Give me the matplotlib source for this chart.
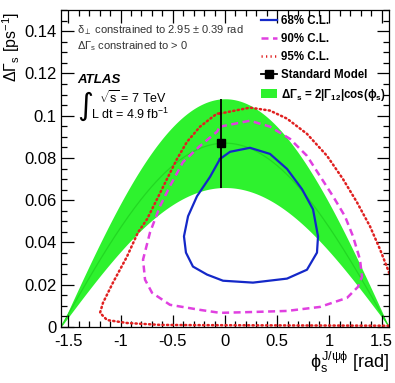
import numpy as np
import matplotlib
matplotlib.use("Agg")
import matplotlib.pyplot as plt
from matplotlib.lines import Line2D
from matplotlib.patches import Patch
from matplotlib.ticker import MultipleLocator, FuncFormatter

plt.rcParams['font.family'] = ['Liberation Sans', 'DejaVu Sans']
plt.rcParams['mathtext.fontset'] = 'custom'
plt.rcParams['mathtext.rm'] = 'Liberation Sans'
plt.rcParams['mathtext.it'] = 'Liberation Sans'
plt.rcParams['mathtext.bf'] = 'Liberation Sans:bold'

# ---- data ----
cl68_phi = [-0.048, 0.048, 0.239, 0.431, 0.594, 0.738, 0.843, 0.891, 0.881, 0.785,
            0.594, 0.268, -0.019, -0.172, -0.307, -0.374, -0.393, -0.354, -0.268, -0.144, -0.048]
cl68_dg = [0.0795, 0.0829, 0.0848, 0.0819, 0.0748, 0.0652, 0.0557, 0.0429, 0.0352, 0.0271,
           0.0229, 0.0210, 0.0219, 0.0248, 0.0286, 0.0352, 0.0429, 0.0524, 0.0619, 0.0710, 0.0795]

cl90_phi = [-0.048, 0.239, 0.431, 0.623, 0.785, 0.910, 1.034, 1.149, 1.226, 1.293, 1.312,
            1.274, 1.169, 0.910, 0.594, 0.268, -0.048, -0.239, -0.527, -0.699, -0.766,
            -0.785, -0.718, -0.623, -0.527, -0.402, -0.239, -0.077, -0.048]
cl90_dg = [0.0948, 0.0976, 0.0948, 0.0890, 0.0810, 0.0714, 0.0619, 0.0524, 0.0429, 0.0319, 0.0238,
           0.0190, 0.0138, 0.0095, 0.0076, 0.0071, 0.0067, 0.0081, 0.0105, 0.0162, 0.0224,
           0.0319, 0.0448, 0.0571, 0.0667, 0.0781, 0.0857, 0.0924, 0.0948]

cl95_phi = [-0.048, 0.239, 0.431, 0.594, 0.785, 0.977, 1.130, 1.264, 1.389, 1.485, 1.561,
            1.63, 1.66, 1.63, 1.0, 0.3, -0.3, -0.623, -0.939, -1.130, -1.197, -1.169,
            -1.073, -0.939, -0.833, -0.747, -0.651, -0.556, -0.460, -0.364, -0.239, -0.077, -0.048]
cl95_dg = [0.1010, 0.1038, 0.1024, 0.0986, 0.0914, 0.0810, 0.0700, 0.0590, 0.0476, 0.0367, 0.0271,
           0.0176, 0.0050, 0.0006, 0.0007, 0.0008, 0.0009, 0.0010, 0.0019, 0.0033, 0.0067, 0.0114,
           0.0210, 0.0333, 0.0448, 0.0510, 0.0605, 0.0700, 0.0795, 0.0876, 0.0948, 0.1010, 0.1010]

sm_phi = -0.036
sm_dg = 0.087
sm_err = 0.021
two_gamma12 = 0.087
two_gamma12_err = 0.021

xticks = [-1.5, -1, -0.5, 0, 0.5, 1, 1.5]
yticks = [0, 0.02, 0.04, 0.06, 0.08, 0.1, 0.12, 0.14]

# ---- figure ----
fig = plt.figure(figsize=(3.95, 3.83), dpi=100)
ax = fig.add_axes([61/395, 1-327/383, 328/395, 317/383])

phi = np.linspace(-np.pi/2, np.pi/2, 400)
green = '#2ef22e'
ax.fill_between(phi, (two_gamma12 - two_gamma12_err)*np.cos(phi),
                (two_gamma12 + two_gamma12_err)*np.cos(phi), color=green, lw=0, zorder=1)
ax.plot(phi, two_gamma12*np.cos(phi), color='#22d822', lw=0.9, zorder=1.5)

ax.plot(cl95_phi, cl95_dg, color='#e02020', lw=1.8, ls=(0, (0.5, 1.3)),
        dash_capstyle='round', zorder=2)
ax.plot(cl90_phi, cl90_dg, color='#e040e0', lw=1.8, ls=(0, (2.8, 1.8)), zorder=3)
ax.plot(cl68_phi, cl68_dg, color='#1428c8', lw=1.6, zorder=4)

ax.errorbar([sm_phi], [sm_dg], yerr=[sm_err], fmt='s', color='black', ms=6,
            elinewidth=1.3, capsize=0, zorder=5)

ax.set_xlim(-np.pi/2, np.pi/2)
ax.set_ylim(0, 0.15)
ax.set_xticks(xticks)
ax.set_yticks(yticks)
ax.xaxis.set_minor_locator(MultipleLocator(0.1))
ax.yaxis.set_minor_locator(MultipleLocator(0.005))
fmt = FuncFormatter(lambda v, p: '%g' % v)
ax.xaxis.set_major_formatter(fmt)
ax.yaxis.set_major_formatter(fmt)
ax.tick_params(which='both', direction='in', top=True, right=True, width=0.9,
               labelsize=12)
ax.tick_params(which='major', length=9)
ax.tick_params(which='minor', length=4.5)
ax.tick_params(axis='x', pad=5)
ax.tick_params(axis='y', pad=3)
for s in ax.spines.values():
    s.set_linewidth(0.9)

ax.set_ylabel(r'$\Delta\Gamma_{\mathrm{s}}$ [ps$^{\mathrm{-1}}$]', fontsize=11.5, loc='top')
ax.yaxis.set_label_coords(-0.118, 0.995)
ax.set_xlabel(r'$\phi_{\mathrm{s}}^{\mathrm{J/\psi\phi}}$ [rad]', fontsize=13, loc='right')
ax.xaxis.set_label_coords(1.0, -0.072)

ax.text(0.05, 0.938, r'$\delta_{\perp}$ constrained to 2.95 $\pm$ 0.39 rad',
        transform=ax.transAxes, fontsize=8, color='#333333', va='center')
ax.text(0.05, 0.885, r'$\Delta\Gamma_{\mathrm{s}}$ constrained to > 0',
        transform=ax.transAxes, fontsize=8, color='#333333', va='center')
ax.text(0.05, 0.78, 'ATLAS', transform=ax.transAxes, fontsize=9.5,
        fontweight='bold', fontstyle='italic', va='center')
ax.text(0.05, 0.695, '\u222b', transform=ax.transAxes, fontsize=22,
        family='DejaVu Sans', va='center')
ax.text(0.115, 0.725, r'$\sqrt{\mathrm{s}}$ = 7 TeV', transform=ax.transAxes, fontsize=9,
        va='center')
ax.text(0.09, 0.672, r'L dt = 4.9 fb$^{\mathrm{-1}}$', transform=ax.transAxes, fontsize=9,
        va='center')

handles = [Line2D([], [], color='#1428c8', lw=1.6),
           Line2D([], [], color='#e040e0', lw=1.8, ls=(0, (2.8, 1.8))),
           Line2D([], [], color='#e02020', lw=1.8, ls=(0, (0.5, 1.3))),
           Line2D([], [], color='black', lw=1.3, marker='s', ms=6),
           Patch(facecolor=green, edgecolor='none')]
labels = ['68% C.L.', '90% C.L.', '95% C.L.', 'Standard Model',
          r'$\mathbf{\Delta\Gamma_{s}}$ = 2|$\mathbf{\Gamma_{12}}$|cos($\mathbf{\phi_{s}}$)']
leg = ax.legend(handles, labels, loc='upper left', bbox_to_anchor=(0.603, 0.99),
                frameon=False, prop={'size': 8.3, 'weight': 'bold'},
                handlelength=1.4, handletextpad=0.35, labelspacing=0.5,
                borderpad=0.2, borderaxespad=0)

fig.savefig('out.png', dpi=100)
